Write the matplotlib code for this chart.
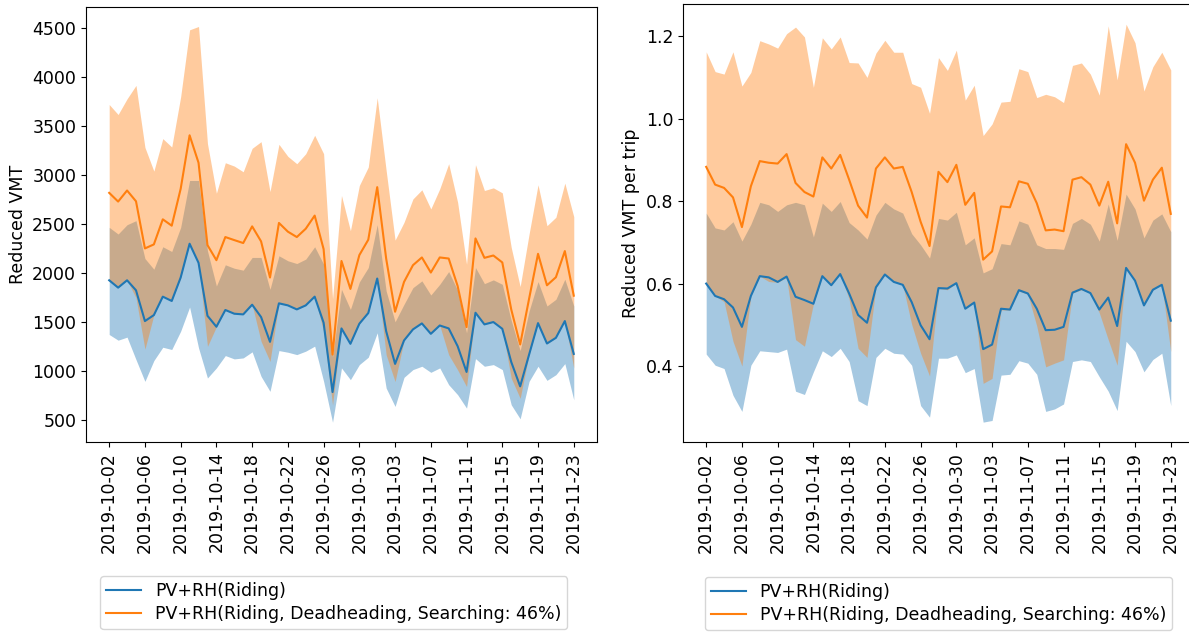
import numpy as np
import pandas as pd
import matplotlib
matplotlib.use("Agg")
import matplotlib.pyplot as plt
import matplotlib.dates as mdates

dates = pd.date_range("2019-10-02", "2019-11-23", freq="D")
tick_dates = pd.date_range("2019-10-02", "2019-11-23", freq="4D")

# total reduced VMT per day
riding_vmt = [1928, 1853, 1928, 1826, 1512, 1573, 1761, 1717, 1956, 2301, 2106, 1566, 1454,
              1625, 1587, 1580, 1679, 1553, 1300, 1693, 1672, 1631, 1672, 1761, 1495, 788,
              1437, 1280, 1485, 1594, 1946, 1409, 1075, 1314, 1427, 1488, 1382, 1467, 1437,
              1256, 993, 1597, 1478, 1502, 1433, 1095, 846, 1170, 1491, 1283, 1341, 1512, 1177]
riding_vmt_hi = [2468, 2400, 2495, 2536, 2150, 2041, 2270, 2222, 2468, 2946, 2946, 2229, 1870,
                 2086, 2051, 2031, 2161, 2161, 1836, 2178, 2127, 2099, 2144, 2270, 2092, 1150,
                 1836, 1631, 1911, 2058, 2495, 1819, 1505, 1683, 1853, 1922, 1778, 1887, 2017,
                 1826, 1392, 2058, 1894, 1932, 1887, 1519, 1211, 1614, 1915, 1666, 1734, 1939, 1666]
riding_vmt_lo = [1375, 1317, 1348, 1119, 897, 1109, 1245, 1222, 1409, 1655, 1239, 931, 1034,
                 1160, 1126, 1136, 1198, 948, 795, 1211, 1194, 1170, 1205, 1256, 897, 480,
                 1034, 914, 1068, 1143, 1392, 829, 641, 938, 1017, 1051, 989, 1034, 863,
                 761, 624, 1129, 1051, 1068, 1017, 658, 515, 897, 1051, 907, 965, 1078, 709]
all_vmt = [2820, 2731, 2844, 2734, 2253, 2294, 2550, 2485, 2861, 3407, 3127, 2287, 2133,
           2369, 2338, 2308, 2478, 2325, 1956, 2513, 2424, 2369, 2454, 2588, 2246, 1170,
           2125, 1840, 2185, 2342, 2878, 2150, 1607, 1911, 2082, 2161, 2007, 2161, 2150,
           1870, 1450, 2355, 2157, 2181, 2110, 1631, 1273, 1740, 2198, 1877, 1959, 2226, 1771]
all_vmt_hi = [3721, 3619, 3779, 3916, 3284, 3042, 3373, 3288, 3800, 4483, 4517, 3322, 2816,
              3127, 3093, 3035, 3274, 3342, 2833, 3315, 3192, 3117, 3219, 3407, 3219, 1740,
              2793, 2434, 2895, 3083, 3790, 3049, 2338, 2519, 2758, 2851, 2656, 2861, 3117,
              2724, 2092, 3107, 2844, 2871, 2820, 2263, 1864, 2400, 2902, 2485, 2571, 2919, 2577]
all_vmt_lo = [1928, 1853, 1928, 1749, 1226, 1573, 1761, 1717, 1956, 2301, 2106, 1254, 1454,
              1625, 1587, 1580, 1679, 1305, 1100, 1693, 1672, 1631, 1672, 1761, 1407, 656,
              1437, 1280, 1485, 1594, 1946, 1168, 895, 1314, 1427, 1488, 1382, 1467, 1168,
              1014, 844, 1597, 1478, 1502, 1433, 929, 724, 1170, 1491, 1283, 1341, 1512, 1032]

# reduced VMT per trip
riding_trip = [0.600, 0.570, 0.562, 0.542, 0.495, 0.570, 0.618, 0.615, 0.604, 0.617, 0.568,
               0.560, 0.551, 0.618, 0.596, 0.623, 0.576, 0.524, 0.505, 0.591, 0.622, 0.604,
               0.597, 0.555, 0.499, 0.465, 0.589, 0.588, 0.601, 0.539, 0.554, 0.441, 0.452,
               0.539, 0.537, 0.584, 0.576, 0.539, 0.487, 0.488, 0.495, 0.578, 0.587, 0.577,
               0.537, 0.566, 0.497, 0.638, 0.607, 0.547, 0.585, 0.597, 0.510]
riding_trip_hi = [0.771, 0.735, 0.730, 0.750, 0.703, 0.744, 0.797, 0.791, 0.775, 0.791, 0.797,
                  0.791, 0.713, 0.795, 0.775, 0.799, 0.748, 0.730, 0.708, 0.766, 0.797, 0.781,
                  0.771, 0.721, 0.694, 0.662, 0.758, 0.754, 0.773, 0.694, 0.711, 0.626, 0.636,
                  0.697, 0.694, 0.752, 0.744, 0.694, 0.685, 0.685, 0.683, 0.746, 0.758, 0.744,
                  0.703, 0.793, 0.705, 0.817, 0.781, 0.711, 0.754, 0.769, 0.726]
riding_trip_lo = [0.429, 0.402, 0.394, 0.329, 0.290, 0.402, 0.437, 0.435, 0.433, 0.441, 0.339,
                  0.331, 0.386, 0.437, 0.423, 0.443, 0.411, 0.316, 0.304, 0.421, 0.443, 0.431,
                  0.429, 0.402, 0.304, 0.276, 0.419, 0.419, 0.427, 0.384, 0.394, 0.264, 0.268,
                  0.378, 0.380, 0.413, 0.407, 0.380, 0.290, 0.296, 0.308, 0.411, 0.415, 0.411,
                  0.374, 0.339, 0.292, 0.460, 0.435, 0.386, 0.416, 0.431, 0.304]
all_trip = [0.883, 0.840, 0.832, 0.809, 0.737, 0.836, 0.897, 0.893, 0.891, 0.914, 0.844,
            0.822, 0.811, 0.906, 0.879, 0.912, 0.852, 0.789, 0.760, 0.879, 0.906, 0.879,
            0.883, 0.822, 0.750, 0.691, 0.871, 0.846, 0.888, 0.791, 0.820, 0.658, 0.678,
            0.787, 0.785, 0.848, 0.842, 0.795, 0.729, 0.731, 0.727, 0.852, 0.858, 0.840,
            0.789, 0.847, 0.746, 0.938, 0.893, 0.801, 0.852, 0.881, 0.769]
all_trip_hi = [1.162, 1.114, 1.108, 1.162, 1.079, 1.112, 1.189, 1.181, 1.171, 1.206, 1.222,
               1.198, 1.076, 1.196, 1.169, 1.198, 1.136, 1.135, 1.100, 1.159, 1.190, 1.161,
               1.161, 1.085, 1.076, 1.013, 1.148, 1.117, 1.166, 1.045, 1.081, 0.959, 0.987,
               1.040, 1.042, 1.121, 1.114, 1.051, 1.059, 1.053, 1.039, 1.129, 1.135, 1.108,
               1.057, 1.225, 1.094, 1.229, 1.184, 1.067, 1.126, 1.161, 1.118]
all_trip_lo = [0.600, 0.570, 0.556, 0.460, 0.400, 0.570, 0.618, 0.605, 0.603, 0.615, 0.464,
               0.448, 0.551, 0.618, 0.596, 0.623, 0.562, 0.443, 0.421, 0.591, 0.621, 0.605,
               0.597, 0.501, 0.431, 0.376, 0.588, 0.585, 0.601, 0.539, 0.554, 0.358, 0.370,
               0.536, 0.536, 0.582, 0.574, 0.497, 0.398, 0.407, 0.415, 0.577, 0.585, 0.577,
               0.529, 0.464, 0.402, 0.637, 0.605, 0.547, 0.585, 0.597, 0.435]

labels = ["PV+RH(Riding)", "PV+RH(Riding, Deadheading, Searching: 46%)"]

plt.rcParams["font.size"] = 12.5

fig = plt.figure(figsize=(11.89, 6.32), dpi=100)
ax1 = fig.add_axes([0.0723, 0.3006, 0.4298, 0.6888])
ax2 = fig.add_axes([0.5744, 0.3006, 0.4298, 0.6926])


def draw(ax, series, ylabel, legend_x):
    (m1, lo1, hi1), (m2, lo2, hi2) = series
    ax.fill_between(dates, lo1, hi1, color="tab:blue", alpha=0.4, linewidth=0)
    ax.fill_between(dates, lo2, hi2, color="tab:orange", alpha=0.4, linewidth=0)
    ax.plot(dates, m1, color="tab:blue", lw=1.5, label=labels[0])
    ax.plot(dates, m2, color="tab:orange", lw=1.5, label=labels[1])
    ax.set_ylabel(ylabel)
    ax.set_xticks(tick_dates)
    ax.xaxis.set_major_formatter(mdates.DateFormatter("%Y-%m-%d"))
    ax.tick_params(axis="x", labelrotation=90)
    ax.legend(loc="upper center", bbox_to_anchor=(legend_x, -0.308),
              borderaxespad=0, borderpad=0.35, labelspacing=0.3)


draw(ax1, [(riding_vmt, riding_vmt_lo, riding_vmt_hi),
           (all_vmt, all_vmt_lo, all_vmt_hi)], "Reduced VMT", 0.485)
draw(ax2, [(riding_trip, riding_trip_lo, riding_trip_hi),
           (all_trip, all_trip_lo, all_trip_hi)], "Reduced VMT per trip", 0.5)

fig.savefig("out.png", dpi=100)
